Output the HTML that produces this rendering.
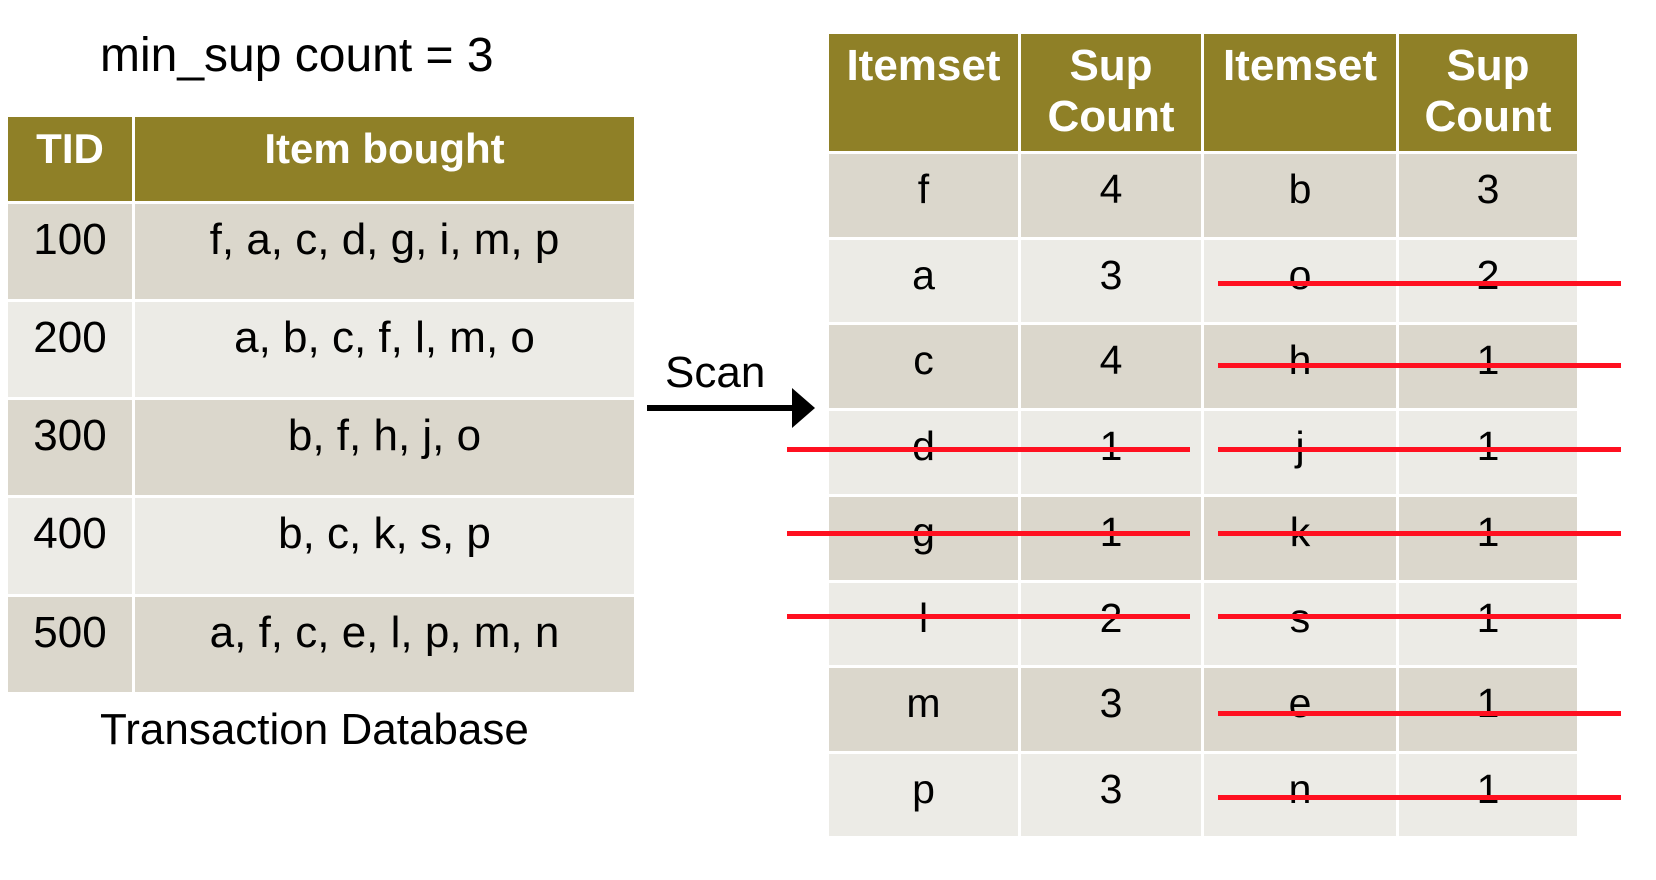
<!DOCTYPE html>
<html><head><meta charset="utf-8"><style>
body{margin:0;width:1656px;height:880px;background:#fff;position:relative;overflow:hidden;font-family:"Liberation Sans",Arial,sans-serif}
.t{position:absolute;white-space:nowrap}
.c{position:absolute;box-sizing:border-box;text-align:center;color:#000;white-space:nowrap}
.h{background:#8f8027;color:#fff;font-weight:bold}
.d{background:#dbd7cc}.l{background:#ecebe6}
.r{position:absolute;height:5px;background:#ff1020}
</style></head><body>
<div class="t" style="left:100px;top:28px;font-size:48px">min_sup count = 3</div>
<div class="t" style="left:100px;top:705px;font-size:44px">Transaction Database</div>

<div class="t" style="left:665px;top:348px;font-size:44px">Scan</div>
<div style="position:absolute;left:647px;top:405px;width:150px;height:6px;background:#000"></div>
<div style="position:absolute;left:792px;top:388px;width:0;height:0;border-top:20px solid transparent;border-bottom:20px solid transparent;border-left:23px solid #000"></div>

<script>
function cell(x,y,w,h,cls,txt,fs,pt){var e=document.createElement('div');e.className='c '+cls;e.style.cssText+='left:'+x+'px;top:'+y+'px;width:'+w+'px;height:'+h+'px;font-size:'+fs+'px;padding-top:'+pt+'px;line-height:1.15';e.innerHTML=txt;document.body.appendChild(e);}
var ly=[117,204,302,400,498,597,695];
var lrows=[["TID","Item bought"],["100","f, a, c, d, g, i, m, p"],["200","a, b, c, f, l, m, o"],["300","b, f, h, j, o"],["400","b, c, k, s, p"],["500","a, f, c, e, l, p, m, n"]];
for(var i=0;i<6;i++){var y=ly[i],h=ly[i+1]-y-3,cls=i==0?'h':(i%2?'d':'l');
cell(8,y,124,h,cls,lrows[i][0],i==0?42:44,i==0?8:11);
cell(135,y,499,h,cls,lrows[i][1],i==0?42:44,i==0?8:11);}
var cx=[829,1021,1204,1399,1580];
var ry=[34,154,240,325,411,497,583,668,754,839];
var rrows=[["Itemset","Sup<br>Count","Itemset","Sup<br>Count"],["f","4","b","3"],["a","3","o","2"],["c","4","h","1"],["d","1","j","1"],["g","1","k","1"],["l","2","s","1"],["m","3","e","1"],["p","3","n","1"]];
for(var i=0;i<9;i++){var y=ry[i],h=ry[i+1]-y-3,cls=i==0?'h':(i%2?'d':'l');
for(var j=0;j<4;j++){cell(cx[j],y,cx[j+1]-cx[j]-3,h,cls,rrows[i][j],i==0?44:41,i==0?7:12);}}
[283,365,449,533,616,713,797].forEach(function(y){var e=document.createElement('div');e.className='r';e.style.cssText='left:1218px;width:403px;top:'+(y-2)+'px';document.body.appendChild(e);});
[449,533,616].forEach(function(y){var e=document.createElement('div');e.className='r';e.style.cssText='left:787px;width:403px;top:'+(y-2)+'px';document.body.appendChild(e);});
</script>
</body></html>
